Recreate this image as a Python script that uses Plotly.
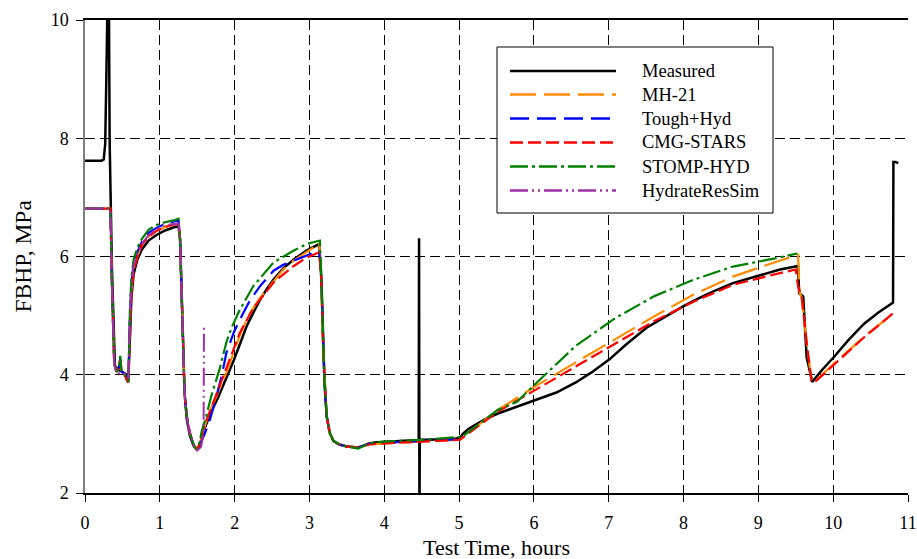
import plotly.graph_objects as go

# ---------------- data ----------------
meas_t = [0, 0.22, 0.25, 0.27, 0.285, 0.30, 0.315, 0.325, 0.33, 0.36, 0.40, 0.45, 0.50, 0.56, 0.58,
          0.60, 0.62, 0.65, 0.70, 0.76, 0.85, 0.95, 1.07, 1.18, 1.25, 1.27, 1.29, 1.31, 1.33, 1.36,
          1.40, 1.45, 1.49, 1.53, 1.60, 1.69, 1.78, 1.85, 1.92, 1.99, 2.08, 2.16, 2.25, 2.34, 2.43,
          2.52, 2.65, 2.79, 2.96, 3.05, 3.13, 3.16, 3.18, 3.20, 3.23, 3.27, 3.32, 3.40, 3.49, 3.57,
          3.65, 3.72, 3.80, 3.90, 4.0, 4.1, 4.21, 4.33, 4.46, 4.465, 4.47, 4.475, 4.55, 4.65, 4.74,
          4.85, 4.95, 5.01, 5.05, 5.12, 5.20, 5.35, 5.51, 5.75, 6.01, 6.30, 6.56, 6.77, 7.01, 7.24,
          7.51, 7.77, 8.0, 8.2, 8.40, 8.66, 9.0, 9.29, 9.53, 9.545, 9.60, 9.645, 9.72, 9.85, 10.01,
          10.2, 10.41, 10.6, 10.80, 10.805, 10.83, 10.87]
meas_p = [7.62, 7.62, 7.64, 7.9, 9.0, 11.5, 11.5, 9.0, 7.9, 5.8, 4.15, 4.08, 4.05, 4.0, 3.95,
          4.6, 5.3, 5.7, 5.95, 6.12, 6.27, 6.36, 6.44, 6.49, 6.51, 6.3, 5.6, 4.6, 3.7, 3.25,
          2.98, 2.8, 2.74, 2.8, 3.1, 3.38, 3.62, 3.82, 4.02, 4.25, 4.55, 4.82, 5.05, 5.27, 5.45,
          5.61, 5.8, 5.95, 6.1, 6.16, 6.21, 5.6, 4.5, 3.9, 3.3, 3.02, 2.88, 2.82, 2.79, 2.78,
          2.77, 2.8, 2.84, 2.86, 2.87, 2.87, 2.88, 2.89, 2.89, 6.31, 1.5, 2.9, 2.9, 2.9, 2.91,
          2.91, 2.92, 2.93, 3.0, 3.08, 3.14, 3.25, 3.34, 3.45, 3.56, 3.70, 3.87, 4.04, 4.26, 4.52,
          4.80, 4.99, 5.16, 5.29, 5.41, 5.55, 5.68, 5.78, 5.84, 5.38, 5.32, 4.30, 3.88, 4.08, 4.30,
          4.58, 4.86, 5.05, 5.22, 7.60, 7.60, 7.58]

mh_t = [0, 0.34, 0.36, 0.39, 0.42, 0.45, 0.47, 0.49, 0.53, 0.56, 0.58, 0.60, 0.62, 0.65, 0.70,
        0.76, 0.85, 0.95, 1.07, 1.18, 1.25, 1.27, 1.29, 1.31, 1.33, 1.36, 1.40, 1.45, 1.49, 1.53,
        1.60, 1.69, 1.78, 1.85, 1.92, 1.99, 2.08, 2.16, 2.25, 2.34, 2.52, 2.65, 2.79, 2.96, 3.05,
        3.13, 3.16, 3.18, 3.20, 3.23, 3.27, 3.32, 3.40, 3.49, 3.65, 3.80, 4.0, 4.5, 5.01, 5.51,
        6.04, 6.56, 7.09, 7.61, 8.14, 8.66, 9.19, 9.53, 9.55, 9.58, 9.65, 9.71, 9.74, 9.85, 10.01,
        10.41, 10.80]
mh_p = [6.81, 6.81, 5.5, 4.2, 4.05, 4.1, 4.25, 4.05, 4.02, 3.93, 3.88, 4.9, 5.45, 5.78, 6.0,
        6.2, 6.34, 6.43, 6.5, 6.55, 6.57, 6.3, 5.6, 4.6, 3.7, 3.3, 3.02, 2.82, 2.74, 2.82,
        3.13, 3.45, 3.7, 3.9, 4.13, 4.4, 4.7, 4.93, 5.13, 5.3, 5.59, 5.78, 5.93, 6.07, 6.15,
        6.24, 5.6, 4.5, 3.9, 3.3, 3.02, 2.88, 2.82, 2.79, 2.77, 2.82, 2.84, 2.87, 2.90, 3.40,
        3.82, 4.21, 4.60, 4.99, 5.36, 5.66, 5.89, 6.03, 5.40, 5.30, 4.50, 3.90, 3.87, 4.00, 4.19,
        4.64, 5.03]

th_t = [0, 0.34, 0.36, 0.39, 0.42, 0.45, 0.47, 0.49, 0.53, 0.56, 0.58, 0.60, 0.62, 0.65, 0.70,
        0.76, 0.85, 0.95, 1.07, 1.18, 1.25, 1.27, 1.29, 1.31, 1.33, 1.36, 1.40, 1.45, 1.49, 1.53,
        1.60, 1.67, 1.75, 1.83, 1.89, 1.99, 2.07, 2.20, 2.34, 2.52, 2.65, 2.79, 2.96, 3.13, 3.16,
        3.18, 3.20, 3.23, 3.27, 3.32, 3.40, 3.49, 3.65, 3.80, 4.0, 4.5, 5.0]
th_p = [6.81, 6.81, 5.5, 4.2, 4.05, 4.1, 4.28, 4.05, 4.02, 3.95, 3.9, 5.0, 5.55, 5.88, 6.08,
        6.25, 6.4, 6.48, 6.55, 6.59, 6.61, 6.3, 5.6, 4.6, 3.7, 3.3, 3.02, 2.82, 2.74, 2.8,
        3.0, 3.24, 3.6, 4.0, 4.37, 4.72, 4.93, 5.25, 5.50, 5.76, 5.86, 5.93, 6.01, 6.10, 5.6,
        4.5, 3.9, 3.3, 3.02, 2.88, 2.82, 2.79, 2.77, 2.83, 2.85, 2.88, 2.91]

cmg_t = [0, 0.34, 0.36, 0.39, 0.42, 0.45, 0.47, 0.49, 0.53, 0.56, 0.58, 0.60, 0.62, 0.65, 0.70,
         0.76, 0.85, 0.95, 1.07, 1.18, 1.25, 1.27, 1.29, 1.31, 1.33, 1.36, 1.40, 1.45, 1.49, 1.53,
         1.60, 1.69, 1.80, 1.89, 2.07, 2.25, 2.52, 2.79, 2.96, 3.13, 3.16, 3.18, 3.20, 3.23, 3.27,
         3.32, 3.40, 3.49, 3.65, 3.80, 4.0, 4.5, 5.01, 5.51, 6.04, 6.56, 7.09, 7.61, 8.14, 8.66,
         9.19, 9.50, 9.53, 9.58, 9.65, 9.71, 9.74, 9.85, 10.01, 10.41, 10.80]
cmg_p = [6.81, 6.81, 5.5, 4.2, 4.05, 4.1, 4.25, 4.05, 4.0, 3.9, 3.87, 4.8, 5.4, 5.75, 6.0,
         6.2, 6.33, 6.43, 6.5, 6.54, 6.55, 6.3, 5.6, 4.6, 3.7, 3.3, 3.02, 2.82, 2.74, 2.82,
         3.15, 3.45, 3.80, 4.11, 4.71, 5.13, 5.56, 5.84, 5.98, 6.07, 5.6, 4.5, 3.9, 3.3, 3.02,
         2.88, 2.82, 2.79, 2.77, 2.82, 2.84, 2.87, 2.90, 3.37, 3.76, 4.15, 4.54, 4.91, 5.24, 5.52,
         5.69, 5.78, 5.50, 5.30, 4.50, 3.90, 3.86, 3.98, 4.17, 4.63, 5.04]

st_t = [0, 0.34, 0.36, 0.39, 0.42, 0.45, 0.47, 0.49, 0.53, 0.56, 0.58, 0.60, 0.62, 0.65, 0.70,
        0.76, 0.85, 0.95, 1.07, 1.18, 1.25, 1.27, 1.29, 1.31, 1.33, 1.36, 1.40, 1.45, 1.49, 1.53,
        1.56, 1.62, 1.69, 1.80, 1.89, 1.96, 2.07, 2.25, 2.52, 2.79, 2.96, 3.14, 3.16, 3.18, 3.20,
        3.23, 3.27, 3.32, 3.40, 3.49, 3.65, 3.80, 4.0, 4.5, 5.04, 5.51, 5.77, 6.04, 6.30, 6.56,
        7.09, 7.61, 8.14, 8.66, 9.19, 9.52]
st_p = [6.81, 6.81, 5.5, 4.2, 4.05, 4.1, 4.32, 4.05, 4.0, 3.92, 3.88, 5.1, 5.65, 5.95, 6.15,
        6.3, 6.45, 6.53, 6.58, 6.61, 6.64, 6.3, 5.6, 4.6, 3.7, 3.3, 3.02, 2.82, 2.74, 2.85,
        3.05, 3.3, 3.65, 4.1, 4.55, 4.8, 5.1, 5.50, 5.90, 6.10, 6.21, 6.27, 5.6, 4.5, 3.9,
        3.3, 3.02, 2.88, 2.82, 2.79, 2.75, 2.84, 2.87, 2.90, 2.95, 3.40, 3.54, 3.87, 4.18, 4.49,
        4.96, 5.33, 5.61, 5.83, 5.96, 6.05]

hr_t = [0, 0.34, 0.36, 0.39, 0.42, 0.47, 0.53, 0.56, 0.58, 0.60, 0.62, 0.65, 0.70, 0.76, 0.85,
        0.95, 1.07, 1.18, 1.25, 1.27, 1.29, 1.31, 1.33, 1.36, 1.40, 1.45, 1.50, 1.55, 1.585, 1.59]
hr_p = [6.81, 6.81, 5.5, 4.2, 4.02, 4.03, 4.02, 3.98, 3.95, 4.9, 5.5, 5.85, 6.05, 6.22, 6.36,
        6.46, 6.53, 6.55, 6.56, 6.3, 5.6, 4.6, 3.7, 3.3, 3.02, 2.82, 2.72, 2.78, 3.0, 4.85]

x_ticks = [0, 1, 2, 3, 4, 5, 6, 7, 8, 9, 10, 11]
y_ticks = [2, 4, 6, 8, 10]

series = [
    ("Measured", meas_t, meas_p, "#000000", "solid", 2.5),
    ("MH-21", mh_t, mh_p, "#FF8C00", "26px,8px", 2.2),
    ("Tough+Hyd", th_t, th_p, "#0000FF", "19px,8px", 2.2),
    ("CMG-STARS", cmg_t, cmg_p, "#FF0000", "13px,5px", 2.2),
    ("STOMP-HYD", st_t, st_p, "#008000", "18px,4px,3px,4px", 2.2),
    ("HydrateResSim", hr_t, hr_p, "#A030A8", "18px,4px,2px,4px,2px,4px", 2.0),
]

FONT = "Liberation Serif, Times New Roman, serif"

fig = go.Figure()
for name, t, p, col, dash, w in series:
    fig.add_trace(go.Scatter(x=t, y=p, mode="lines", name=name,
                             line=dict(color=col, dash=dash, width=w),
                             showlegend=False))

W, H = 917, 559
L, R, T, B = 85, 9, 20, 66
PW, PH = W - L - R, H - T - B


def px_x(px):
    return (px - L) / PW


def px_y(py):
    return 1 - (py - T) / PH


shapes = []
annotations = []
# legend box (manual, to match the long line samples of the original)
shapes.append(dict(type="rect", xref="paper", yref="paper",
                   x0=px_x(497), x1=px_x(773), y0=px_y(213), y1=px_y(47),
                   line=dict(color="#000000", width=1), fillcolor="white", layer="above"))
rows = [71, 94.5, 118.5, 142.5, 166.5, 190.5]
for (name, t, p, col, dash, w), ry in zip(series, rows):
    shapes.append(dict(type="line", xref="paper", yref="paper",
                       x0=px_x(510), x1=px_x(616), y0=px_y(ry), y1=px_y(ry),
                       line=dict(color=col, dash=dash, width=2.6), layer="above"))
    annotations.append(dict(text=name, xref="paper", yref="paper", x=px_x(640), y=px_y(ry),
                            xanchor="left", yanchor="middle", showarrow=False,
                            font=dict(family=FONT, size=18.5, color="#000000")))

annotations.append(dict(text="Test Time, hours", xref="paper", yref="paper", x=0.5, y=0,
                        xanchor="center", yanchor="middle", yshift=-54, showarrow=False,
                        font=dict(family=FONT, size=22, color="#000000")))
annotations.append(dict(text="FBHP, MPa", xref="paper", yref="paper", x=0, y=0.5,
                        xanchor="center", yanchor="middle", xshift=-63, textangle=-90,
                        showarrow=False, font=dict(family=FONT, size=23.5, color="#000000")))

fig.update_layout(
    width=W, height=H,
    margin=dict(l=L, r=R, t=T, b=B, pad=0, autoexpand=False),
    paper_bgcolor="white", plot_bgcolor="white",
    font=dict(family=FONT, size=18, color="#000000"),
    shapes=shapes, annotations=annotations,
    xaxis=dict(range=[0, 11], autorange=False, automargin=False,
               tickvals=x_ticks, ticktext=[str(v) for v in x_ticks],
               showgrid=True, gridcolor="#000000", gridwidth=1, griddash="10px,5px",
               showline=True, linecolor="#000000", linewidth=1.5, mirror=True,
               ticks="outside", ticklen=7, tickcolor="#000000", tickwidth=1.3,
               ticklabelstandoff=6,
               zeroline=False, tickfont=dict(family=FONT, size=18)),
    yaxis=dict(range=[2, 10], autorange=False, automargin=False,
               tickvals=y_ticks, ticktext=[str(v) for v in y_ticks],
               showgrid=True, gridcolor="#000000", gridwidth=1, griddash="10px,5px",
               showline=True, linecolor="#808080", linewidth=1.5,
               ticks="outside", ticklen=7, tickcolor="#000000", tickwidth=1.3,
               ticklabelstandoff=4,
               zeroline=False, tickfont=dict(family=FONT, size=18)),
)

fig.write_html(
    "out.html",
    config={"displayModeBar": False, "responsive": False},
    post_script=("document.body.style.margin='0';document.body.style.padding='0';"
                 "document.body.style.overflow='hidden';"
                 "document.documentElement.style.overflow='hidden';"),
)
